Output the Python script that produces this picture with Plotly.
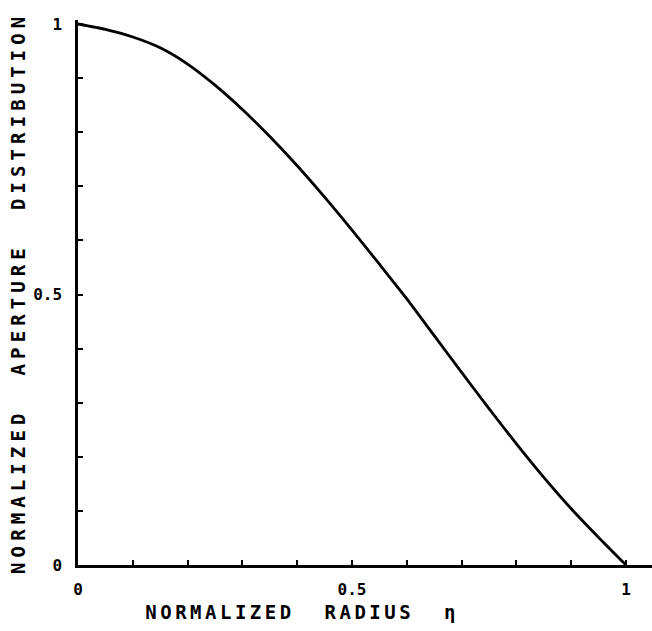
import plotly.graph_objects as go

# Data
radius = [0.0, 0.05, 0.1, 0.15, 0.2, 0.25, 0.3, 0.35, 0.4, 0.45, 0.5,
          0.55, 0.6, 0.65, 0.7, 0.75, 0.8, 0.85, 0.9, 0.95, 1.0]
aperture = [1.0, 0.99, 0.976, 0.956, 0.926, 0.887, 0.842, 0.792, 0.738, 0.68, 0.619,
            0.556, 0.492, 0.424, 0.356, 0.289, 0.224, 0.162, 0.104, 0.051, 0.0]

tick_vals = [round(i * 0.1, 1) for i in range(11)]
tick_text = ["0", "", "", "", "", "0.5", "", "", "", "", "1"]

x_title = "NORMALIZED  RADIUS  η"
y_title = "NORMALIZED  APERTURE  DISTRIBUTION"

FONT = "DejaVu Sans Mono"

fig = go.Figure()
fig.add_trace(go.Scatter(
    x=radius, y=aperture, mode="lines",
    line=dict(color="black", width=2.8, shape="spline", smoothing=0.6),
    showlegend=False, hoverinfo="skip",
))

fig.update_layout(
    width=652, height=631,
    margin=dict(l=78, r=0, t=20, b=66),
    paper_bgcolor="white", plot_bgcolor="white",
    font=dict(family=FONT, color="black"),
    xaxis=dict(
        range=[0, 1.0474], tickvals=tick_vals, ticktext=tick_text,
        ticks="inside", ticklen=5, tickwidth=2, tickcolor="black",
        showline=True, linecolor="black", linewidth=2.5,
        showgrid=False, zeroline=False, ticklabelstandoff=8,
        tickfont=dict(family=FONT, size=16, weight="bold", color="black"),
    ),
    yaxis=dict(
        range=[0, 1.0074], tickvals=tick_vals, ticktext=tick_text,
        ticks="inside", ticklen=5, tickwidth=2, tickcolor="black",
        showline=True, linecolor="black", linewidth=2.5,
        showgrid=False, zeroline=False, ticklabelstandoff=10,
        tickfont=dict(family=FONT, size=16, weight="bold", color="black"),
    ),
    annotations=[
        dict(text=x_title, xref="paper", yref="paper", x=0.39, y=-0.086,
             showarrow=False, xanchor="center", yanchor="middle",
             font=dict(family=FONT, size=19, weight="bold", color="black")),
        dict(text=y_title, xref="paper", yref="paper", x=-0.105, y=0.5,
             showarrow=False, xanchor="center", yanchor="middle", textangle=-90,
             font=dict(family=FONT, size=19, weight="bold", color="black")),
    ],
)

post = """
document.body.style.margin = '0';
document.body.style.overflow = 'hidden';
var texts = document.querySelectorAll('.annotation-text');
if (texts.length >= 2) {
  texts[0].style.letterSpacing = '3.5px';
  texts[1].style.letterSpacing = '5.1px';
}
"""

fig.write_html("out.html", post_script=post, config={"displayModeBar": False})
